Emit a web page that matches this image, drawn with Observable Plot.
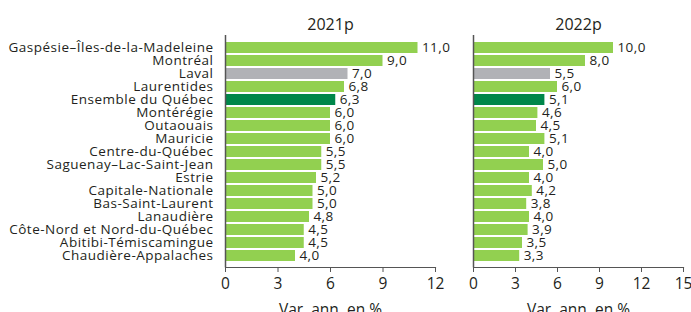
<!DOCTYPE html>
<html>
<head>
<meta charset="utf-8">
<script src="https://cdn.jsdelivr.net/npm/d3@7"></script>
<script src="https://cdn.jsdelivr.net/npm/@observablehq/plot@0.6"></script>
<style>
  body { margin: 0; background: #fff; }
  #chart { display: flex; width: 691px; height: 312px; overflow: hidden; }
  #chart svg { display: block; }
  .ylab text { letter-spacing: 0.5px; }
  .vlab text { letter-spacing: 0.4px; }
</style>
</head>
<body>
<div id="chart"></div>
<script>
const regions = [
  "Gaspésie–Îles-de-la-Madeleine", "Montréal", "Laval", "Laurentides",
  "Ensemble du Québec", "Montérégie", "Outaouais", "Mauricie",
  "Centre-du-Québec", "Saguenay–Lac-Saint-Jean", "Estrie", "Capitale-Nationale",
  "Bas-Saint-Laurent", "Lanaudière", "Côte-Nord et Nord-du-Québec",
  "Abitibi-Témiscamingue", "Chaudière-Appalaches"
];
const values2021 = [11.0, 9.0, 7.0, 6.8, 6.3, 6.0, 6.0, 6.0, 5.5, 5.5, 5.2, 5.0, 5.0, 4.8, 4.5, 4.5, 4.0];
const values2022 = [10.0, 8.0, 5.5, 6.0, 5.1, 4.6, 4.5, 5.1, 4.0, 5.0, 4.0, 4.2, 3.8, 4.0, 3.9, 3.5, 3.3];
const panelTitles = ["2021p", "2022p"];
const ticks2021 = [0, 3, 6, 9, 12];
const ticks2022 = [0, 3, 6, 9, 12, 15];
const axisLabel = "Var. ann. en %";

const GREEN = "#92d050", GREY = "#b1b2b6", DARK = "#00874a";
const fillOf = d => d.region === "Laval" ? GREY : d.region === "Ensemble du Québec" ? DARK : GREEN;
const fmt = v => d3.format(".1f")(v).replace(".", ",");
const FONT = "'Open Sans', 'Noto Sans', sans-serif";
const TXT = "#231f20";

function panel(values, title, ticks, xmax, opts) {
  const data = regions.map((r, i) => ({region: r, value: values[i]}));
  return Plot.plot({
    width: opts.width,
    height: 312,
    marginLeft: opts.marginLeft,
    marginRight: opts.marginRight,
    marginTop: 35,
    marginBottom: 45,
    style: {fontFamily: FONT, fontSize: "15px", color: TXT, background: "white"},
    x: {domain: [0, xmax], ticks: ticks, label: axisLabel, labelAnchor: "center", labelArrow: "none", labelOffset: 46},
    y: {domain: regions, padding: 0.18},
    marks: [
      Plot.barX(data, {x: "value", y: "region", fill: fillOf}),
      Plot.text(data, {x: "value", y: "region", text: d => fmt(d.value), dx: 4, textAnchor: "start", fontSize: 13.5, fill: TXT, className: "vlab"}),
      Plot.ruleX([0], {stroke: "#555", strokeWidth: 1.5}),
      Plot.frame({anchor: "bottom", stroke: "#555", strokeWidth: 1.2}),
      Plot.axisX({ticks: ticks, tickSize: 5, tickPadding: 5, fontSize: 15.5, stroke: "#555", label: axisLabel, labelAnchor: "center", labelArrow: "none", labelOffset: 47}),
      opts.showY
        ? Plot.axisY({tickSize: 0, tickPadding: 12, fontSize: 13.5, label: null, fill: TXT, className: "ylab"})
        : Plot.axisY({ticks: [], label: null}),
      Plot.text([title], {text: d => d, frameAnchor: "top", lineAnchor: "bottom", dy: -6, fontSize: 16, fill: TXT})
    ]
  });
}

const chart = document.getElementById("chart");
chart.append(panel(values2021, panelTitles[0], ticks2021, 12, {width: 460, marginLeft: 225, marginRight: 25, showY: true}));
chart.append(panel(values2022, panelTitles[1], ticks2022, 15, {width: 231, marginLeft: 13, marginRight: 8, showY: false}));
</script>
</body>
</html>
